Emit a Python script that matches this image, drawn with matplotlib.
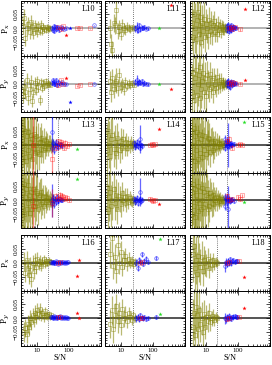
import matplotlib
matplotlib.use('Agg')
import matplotlib.pyplot as plt
from matplotlib.ticker import FixedLocator, LogLocator, NullFormatter

plt.rcParams['font.family'] = ['Liberation Serif', 'DejaVu Serif']
plt.rcParams['mathtext.fontset'] = 'dejavuserif'

# ---------------- data (S/N, Px, Py, error) ----------------
labels = ['L10', 'L11', 'L12', 'L13', 'L14', 'L15', 'L16', 'L17', 'L18']
snr_cut = [22, 24, 48, 48, 24, 45, 22, 24, 22]

# L10
l10_ol_sn = [3.6, 4.0, 4.4, 4.9, 5.4, 6.0, 6.6, 7.2, 7.9, 8.6, 9.4, 10.3, 11.2, 12.3, 13.4, 14.6, 16.0, 17.5, 19.0, 21.0, 23.0, 25.0, 27.0]
l10_ol_px = [0.008, 0.038, -0.036, 0.0, 0.015, -0.012, 0.022, 0.004, -0.018, 0.01, -0.002, -0.014, 0.008, -0.006, 0.012, -0.01, 0.004, -0.002, -0.006, 0.004, 0.0, -0.004, 0.002]
l10_ol_py = [-0.04, -0.012, -0.028, 0.012, -0.05, -0.02, 0.006, -0.062, -0.03, 0.002, -0.022, 0.01, -0.012, -0.058, 0.006, -0.016, 0.002, -0.008, 0.01, -0.004, 0.004, 0.0, -0.003]
l10_ol_err = [0.03, 0.03, 0.028, 0.027, 0.026, 0.025, 0.024, 0.023, 0.022, 0.021, 0.02, 0.019, 0.018, 0.017, 0.016, 0.015, 0.014, 0.013, 0.012, 0.011, 0.01, 0.009, 0.008]
l10_bl_sn = [30, 32, 34, 36, 38, 41, 44, 47, 51, 56, 62, 70, 85, 620]
l10_bl_px = [0.0, -0.006, 0.008, -0.01, 0.003, -0.004, 0.006, 0.0, -0.007, 0.004, 0.0, -0.003, 0.002, 0.01]
l10_bl_py = [0.004, 0.012, -0.002, 0.006, 0.0, 0.014, -0.004, 0.008, 0.002, 0.0, 0.005, -0.002, 0.0, 0.0]
l10_bl_err = [0.008, 0.008, 0.007, 0.007, 0.007, 0.006, 0.006, 0.006, 0.005, 0.005, 0.005, 0.004, 0.004, 0.002]
l10_rd_sn = [48, 58, 68, 190, 230, 480]
l10_rd_px = [0.004, -0.004, 0.008, 0.002, 0.0, 0.0]
l10_rd_py = [-0.006, 0.012, 0.0, -0.008, -0.004, 0.0]
l10_rd_err = [0.005, 0.005, 0.004, 0.003, 0.003, 0.002]
l10_rs_sn, l10_rs_px, l10_rs_py = [85], [-0.024], [0.019]
l10_bs_sn, l10_bs_px, l10_bs_py = [110], [0.0], [-0.065]

# L11
l11_ol_sn = [4.3, 4.8, 5.3, 5.8, 6.4, 7.0, 7.8, 8.6, 9.5, 10.5, 12, 13.5, 15, 17, 19, 22, 25]
l11_ol_px = [0.0, -0.055, -0.08, 0.02, 0.01, 0.064, -0.01, 0.004, -0.02, 0.01, 0.0, -0.008, 0.006, 0.0, -0.004, 0.003, 0.0]
l11_ol_py = [0.01, -0.03, 0.02, -0.02, 0.004, 0.01, -0.015, 0.03, -0.01, 0.0, -0.02, 0.006, -0.008, 0.004, -0.006, 0.002, -0.003]
l11_ol_err = [0.035, 0.035, 0.034, 0.032, 0.03, 0.045, 0.028, 0.026, 0.024, 0.022, 0.02, 0.018, 0.016, 0.014, 0.012, 0.01, 0.009]
l11_bl_sn = [28, 31, 34, 37, 40, 44, 48, 53, 60, 68]
l11_bl_px = [0.0, 0.004, -0.006, 0.01, -0.004, 0.002, 0.0, 0.005, -0.002, 0.0]
l11_bl_py = [0.006, 0.012, 0.002, 0.008, 0.004, 0.01, 0.0, 0.003, 0.0, -0.002]
l11_bl_err = [0.012, 0.02, 0.01, 0.01, 0.008, 0.008, 0.007, 0.007, 0.006, 0.006]
l11_rd_sn, l11_rd_px, l11_rd_py, l11_rd_err = [], [], [], []
l11_rs_sn, l11_rs_px, l11_rs_py = [370], [0.085], [-0.02]
l11_gs_sn, l11_gs_px, l11_gs_py = [150], [0.0], [0.0]

# L12
l12_ol_sn = [3.5, 3.8, 4.1, 4.4, 4.7, 5.0, 5.4, 5.8, 6.2, 6.6, 7.1, 7.6, 8.1, 8.7, 9.3, 10.0, 10.7, 11.5, 12.3, 13.2, 14.1, 15.1, 16.2, 17.4, 18.6, 20.0, 21.4, 23.0, 24.6, 26.4, 28.3, 30.3, 32.5, 34.8, 37.3, 40.0, 43.0, 46.0]
l12_ol_px = [0.02, -0.03, 0.05, 0.0, -0.04, 0.03, 0.06, -0.02, 0.01, 0.04, -0.05, 0.02, -0.01, 0.035, -0.03, 0.015, 0.0, -0.025, 0.03, -0.01, 0.02, -0.02, 0.01, 0.025, -0.015, 0.005, -0.02, 0.015, -0.005, 0.01, -0.012, 0.006, -0.004, 0.008, -0.006, 0.003, -0.002, 0.0]
l12_ol_py = [-0.03, 0.04, -0.06, 0.02, 0.05, -0.04, 0.0, 0.03, -0.05, 0.06, -0.02, 0.01, 0.04, -0.03, 0.02, -0.045, 0.03, 0.0, -0.02, 0.035, -0.01, 0.015, -0.03, 0.02, 0.0, -0.015, 0.025, -0.01, 0.012, -0.008, 0.015, -0.005, 0.006, 0.0, -0.004, 0.004, -0.002, 0.0]
l12_ol_err = [0.1, 0.1, 0.095, 0.09, 0.09, 0.085, 0.08, 0.08, 0.075, 0.07, 0.068, 0.065, 0.062, 0.06, 0.057, 0.055, 0.052, 0.05, 0.047, 0.045, 0.043, 0.04, 0.038, 0.036, 0.034, 0.032, 0.03, 0.028, 0.026, 0.025, 0.023, 0.022, 0.02, 0.019, 0.018, 0.017, 0.016, 0.015]
l12_bl_sn = [44, 46, 48, 50, 52, 54, 56, 58, 61, 64, 67, 70, 74, 80, 88]
l12_bl_px = [0.008, -0.006, 0.012, 0.0, -0.01, 0.004, -0.004, 0.01, -0.008, 0.002, 0.006, -0.002, 0.004, 0.0, 0.002]
l12_bl_py = [0.006, -0.004, 0.01, 0.0, -0.008, 0.004, -0.012, 0.008, 0.002, -0.004, 0.005, 0.0, -0.002, 0.002, 0.0]
l12_bl_err = [0.012, 0.012, 0.011, 0.011, 0.01, 0.01, 0.01, 0.009, 0.009, 0.009, 0.008, 0.008, 0.007, 0.007, 0.006]
l12_rd_sn = [52, 58, 66, 78, 118]
l12_rd_px = [0.0, 0.004, -0.003, 0.006, -0.004]
l12_rd_py = [0.004, -0.002, 0.006, 0.003, 0.0]
l12_rd_err = [0.008, 0.008, 0.007, 0.007, 0.005]
l12_rs_sn, l12_rs_px, l12_rs_py = [170], [0.07], [0.012]

# L13
l13_ol_sn = [3.1, 3.3, 3.5, 3.7, 3.9, 4.1, 4.3, 4.6, 4.9, 5.2, 5.5, 5.8, 6.1, 6.5, 6.9, 7.3, 7.7, 8.2, 8.7, 9.2, 9.8, 10.4, 11.0, 11.7, 12.4, 13.2, 14.0, 14.9, 15.8, 16.8, 17.8, 19.0, 20.2, 21.5, 23.0, 24.5, 26.0, 28.0, 30.0, 32.0]
l13_ol_px = [0.04, -0.05, 0.02, 0.06, -0.03, 0.0, 0.05, -0.06, 0.03, -0.02, 0.045, -0.04, 0.01, 0.035, -0.05, 0.02, -0.01, 0.04, -0.03, 0.0, 0.03, -0.025, 0.02, -0.035, 0.01, 0.025, -0.015, 0.005, -0.02, 0.018, -0.01, 0.012, -0.006, 0.008, -0.01, 0.004, 0.006, -0.004, 0.002, 0.0]
l13_ol_py = [-0.04, 0.05, -0.02, 0.03, 0.06, -0.05, 0.01, 0.04, -0.03, 0.055, -0.01, 0.02, -0.045, 0.03, 0.0, -0.03, 0.04, 0.015, -0.02, 0.035, -0.01, 0.025, -0.03, 0.01, 0.02, -0.015, 0.03, -0.005, 0.01, -0.02, 0.015, -0.008, 0.012, 0.0, 0.008, -0.006, 0.004, 0.0, -0.003, 0.002]
l13_ol_err = [0.15, 0.15, 0.14, 0.14, 0.13, 0.13, 0.12, 0.12, 0.11, 0.11, 0.1, 0.1, 0.095, 0.09, 0.085, 0.08, 0.078, 0.075, 0.07, 0.068, 0.065, 0.062, 0.06, 0.057, 0.055, 0.052, 0.05, 0.048, 0.045, 0.043, 0.04, 0.038, 0.036, 0.034, 0.032, 0.03, 0.028, 0.026, 0.024, 0.022]
l13_bl_sn = [30, 31, 33, 35, 37, 39, 42, 45, 48, 52, 56, 60]
l13_bl_px = [0.045, -0.01, 0.005, -0.02, 0.0, 0.01, -0.005, 0.004, -0.008, 0.002, 0.0, -0.003]
l13_bl_py = [0.0, -0.01, 0.008, -0.015, 0.004, -0.005, 0.01, 0.0, -0.004, 0.006, 0.002, 0.0]
l13_bl_err = [0.06, 0.015, 0.014, 0.013, 0.012, 0.012, 0.011, 0.01, 0.01, 0.009, 0.009, 0.008]
l13_rd_sn = [7.6, 30, 40, 46, 52, 58, 64, 70, 78, 88, 100]
l13_rd_px = [0.0, -0.05, -0.01, 0.012, -0.004, 0.01, 0.004, -0.012, 0.008, -0.006, 0.002]
l13_rd_py = [-0.02, -0.01, 0.015, 0.006, 0.02, 0.01, 0.016, 0.004, 0.012, 0.008, 0.0]
l13_rd_err = [0.15, 0.05, 0.01, 0.01, 0.01, 0.009, 0.009, 0.008, 0.008, 0.007, 0.006]
l13_gs_sn, l13_gs_px, l13_gs_py = [190], [-0.017], [0.078]

# L14
l14_ol_sn = [3.2, 3.5, 3.8, 4.1, 4.5, 4.9, 5.3, 5.8, 6.3, 6.9, 7.5, 8.2, 9.0, 9.8, 10.7, 11.7, 12.8, 14.0, 15.3, 16.7, 18.3, 20.0, 22.0, 24.0, 26.5]
l14_ol_px = [0.03, -0.02, 0.05, 0.0, -0.04, 0.02, 0.035, -0.015, 0.01, -0.03, 0.025, 0.0, -0.02, 0.015, -0.01, 0.02, -0.005, 0.01, -0.012, 0.006, -0.004, 0.008, -0.002, 0.004, 0.0]
l14_ol_py = [0.02, 0.045, -0.03, 0.01, 0.03, -0.02, 0.0, 0.04, -0.01, 0.02, -0.03, 0.015, 0.005, -0.015, 0.025, 0.0, 0.01, -0.01, 0.015, -0.005, 0.008, 0.0, -0.004, 0.002, 0.0]
l14_ol_err = [0.1, 0.095, 0.09, 0.085, 0.08, 0.075, 0.07, 0.066, 0.062, 0.058, 0.054, 0.05, 0.047, 0.044, 0.041, 0.038, 0.035, 0.032, 0.03, 0.027, 0.025, 0.022, 0.02, 0.018, 0.016]
l14_bl_sn = [26, 28, 30, 32, 34, 36, 38, 40, 43, 46]
l14_bl_px = [0.005, -0.008, 0.0, 0.01, -0.004, 0.006, -0.01, 0.02, 0.0, -0.003]
l14_bl_py = [0.004, -0.006, 0.002, 0.008, -0.01, 0.0, 0.006, 0.03, -0.004, 0.002]
l14_bl_err = [0.012, 0.011, 0.011, 0.01, 0.01, 0.009, 0.009, 0.05, 0.008, 0.008]
l14_rd_sn = [80, 92, 100, 112]
l14_rd_px = [0.0, 0.004, -0.002, 0.002]
l14_rd_py = [0.004, 0.0, -0.004, 0.002]
l14_rd_err = [0.006, 0.006, 0.005, 0.005]
l14_rs_sn, l14_rs_px, l14_rs_py = [148], [0.058], [-0.012]

# L15
l15_ol_sn = [3.5, 3.7, 3.9, 4.1, 4.3, 4.5, 4.8, 5.1, 5.4, 5.7, 6.0, 6.4, 6.8, 7.2, 7.6, 8.1, 8.6, 9.1, 9.7, 10.3, 11.0, 11.7, 12.4, 13.2, 14.0, 14.9, 15.8, 16.8, 17.8, 19.0, 20.2, 21.5, 23.0, 24.5, 26.0, 27.5, 29.0, 31.0, 33.0, 35.0]
l15_ol_px = [0.05, -0.04, 0.0, 0.06, -0.06, 0.03, -0.02, 0.045, -0.05, 0.01, 0.04, -0.03, 0.02, -0.045, 0.035, 0.0, -0.02, 0.03, -0.035, 0.015, 0.025, -0.01, 0.02, -0.025, 0.01, 0.015, -0.02, 0.005, -0.01, 0.012, -0.008, 0.01, -0.006, 0.004, 0.008, -0.004, 0.002, 0.006, -0.002, 0.0]
l15_ol_py = [-0.05, 0.03, 0.06, -0.02, 0.04, -0.06, 0.02, 0.0, 0.05, -0.04, -0.01, 0.035, -0.03, 0.045, 0.0, -0.025, 0.03, -0.015, 0.02, 0.04, -0.03, 0.01, -0.02, 0.025, 0.015, -0.01, 0.02, -0.015, 0.008, 0.0, 0.012, -0.006, 0.008, -0.004, 0.0, 0.004, -0.002, 0.003, 0.0, -0.002]
l15_ol_err = [0.16, 0.16, 0.15, 0.15, 0.14, 0.14, 0.13, 0.13, 0.12, 0.12, 0.11, 0.11, 0.1, 0.1, 0.095, 0.09, 0.085, 0.08, 0.075, 0.07, 0.066, 0.062, 0.058, 0.055, 0.052, 0.049, 0.046, 0.043, 0.04, 0.037, 0.034, 0.032, 0.03, 0.028, 0.026, 0.024, 0.022, 0.02, 0.018, 0.016]
l15_bl_sn = [38, 40, 42, 44, 45, 47, 49, 52, 55, 58, 62, 66, 72]
l15_bl_px = [0.02, -0.01, 0.005, 0.012, -0.004, 0.0, 0.008, -0.006, 0.004, -0.002, 0.006, 0.0, 0.002]
l15_bl_py = [0.01, -0.02, 0.004, -0.008, 0.012, -0.03, 0.0, 0.006, -0.004, 0.002, 0.0, 0.004, -0.002]
l15_bl_err = [0.015, 0.014, 0.013, 0.012, 0.012, 0.08, 0.011, 0.011, 0.01, 0.01, 0.009, 0.009, 0.008]
l15_rd_sn = [45, 50, 65, 100, 115, 130]
l15_rd_px = [0.012, 0.02, -0.01, 0.0, 0.002, 0.0]
l15_rd_py = [0.015, 0.0, 0.005, 0.012, 0.004, 0.018]
l15_rd_err = [0.01, 0.01, 0.008, 0.006, 0.006, 0.005]
l15_gs_sn, l15_gs_px, l15_gs_py = [151], [0.082], [-0.007]

# L16
l16_ol_sn = [4.0, 4.4, 4.8, 5.2, 5.7, 6.2, 6.8, 7.4, 8.1, 8.8, 9.6, 10.5, 11.5, 12.5, 13.7, 15.0, 16.4, 18.0, 19.7, 21.5, 23.5, 25.5, 28.0]
l16_ol_px = [0.004, -0.036, 0.01, -0.02, -0.045, -0.01, -0.06, 0.0, -0.03, 0.01, -0.015, 0.015, -0.005, 0.008, -0.01, 0.004, 0.012, -0.004, 0.006, 0.0, 0.008, 0.002, 0.004]
l16_ol_py = [-0.05, -0.035, -0.055, -0.02, -0.03, 0.0, -0.015, 0.01, -0.005, 0.02, 0.005, 0.03, 0.015, 0.035, 0.01, 0.02, 0.005, 0.025, 0.012, 0.008, 0.015, 0.005, 0.01]
l16_ol_err = [0.035, 0.034, 0.033, 0.032, 0.031, 0.03, 0.029, 0.028, 0.027, 0.026, 0.025, 0.024, 0.022, 0.021, 0.02, 0.018, 0.017, 0.016, 0.014, 0.013, 0.012, 0.011, 0.01]
l16_bl_sn = [28, 30, 32, 34, 36, 38, 40, 43, 46, 49, 52, 56, 60, 65, 70, 76, 82, 90, 98]
l16_bl_px = [0.002, 0.0, 0.004, -0.002, 0.003, 0.0, 0.005, 0.001, -0.003, 0.004, 0.002, 0.0, 0.003, 0.001, -0.002, 0.002, 0.0, 0.003, 0.001]
l16_bl_py = [0.003, 0.006, 0.0, 0.004, 0.008, 0.002, 0.005, 0.0, 0.006, 0.003, 0.007, 0.002, 0.004, 0.001, 0.005, 0.002, 0.003, 0.0, 0.002]
l16_bl_err = [0.006, 0.006, 0.006, 0.005, 0.005, 0.005, 0.005, 0.005, 0.004, 0.004, 0.004, 0.004, 0.004, 0.003, 0.003, 0.003, 0.003, 0.003, 0.003]
l16_rd_sn = [45, 52]
l16_rd_px = [0.0, 0.002]
l16_rd_py = [0.006, 0.004]
l16_rd_err = [0.005, 0.005]
l16_rs_sn, l16_rs_px, l16_rs_py = [190, 215], [-0.049, 0.011], [0.02, 0.0]

# L17
l17_ol_sn = [4.5, 5.0, 5.6, 6.2, 6.9, 7.7, 8.6, 9.6, 10.7, 12.0, 13.4, 15.0, 17.0, 19.0, 21.5, 24.0, 27.0]
l17_ol_px = [0.03, 0.09, -0.01, 0.02, -0.03, 0.065, 0.0, 0.04, -0.015, 0.01, 0.025, -0.005, 0.015, 0.0, 0.008, -0.004, 0.004]
l17_ol_py = [-0.02, 0.03, -0.04, 0.01, 0.045, -0.01, 0.02, -0.025, 0.035, 0.0, 0.015, -0.01, 0.02, 0.005, -0.005, 0.01, 0.0]
l17_ol_err = [0.05, 0.05, 0.048, 0.046, 0.044, 0.042, 0.04, 0.037, 0.034, 0.031, 0.028, 0.025, 0.022, 0.02, 0.018, 0.016, 0.014]
l17_bl_sn = [30, 33, 36, 40, 44, 48, 53, 60, 70, 120]
l17_bl_px = [0.0, -0.018, 0.01, 0.004, 0.03, -0.004, 0.006, 0.015, 0.002, 0.017]
l17_bl_py = [0.0, 0.006, -0.004, 0.01, 0.002, 0.0, 0.004, -0.002, 0.0, 0.004]
l17_bl_err = [0.012, 0.011, 0.01, 0.01, 0.009, 0.009, 0.008, 0.008, 0.007, 0.006]
l17_rd_sn = [40, 45]
l17_rd_px = [0.0, 0.004]
l17_rd_py = [0.0, 0.002]
l17_rd_err = [0.006, 0.006]
l17_gs_sn, l17_gs_px, l17_gs_py = [162], [0.086], [0.015]

# L18
l18_ol_sn = [3.8, 4.1, 4.4, 4.8, 5.2, 5.6, 6.1, 6.6, 7.2, 7.8, 8.5, 9.3, 10.2, 11.2, 12.3, 13.5, 14.8, 16.3, 18.0, 20.0, 22.0]
l18_ol_px = [0.03, 0.06, -0.02, 0.01, -0.04, 0.025, 0.0, -0.015, 0.02, -0.03, 0.01, 0.0, -0.01, 0.015, -0.02, 0.005, -0.008, 0.01, -0.004, 0.002, 0.0]
l18_ol_py = [-0.03, 0.02, -0.06, 0.04, 0.01, -0.04, 0.03, -0.02, 0.0, -0.05, 0.015, -0.03, 0.005, -0.01, 0.02, -0.015, 0.0, 0.008, -0.006, 0.004, 0.0]
l18_ol_err = [0.1, 0.1, 0.09, 0.085, 0.08, 0.075, 0.07, 0.065, 0.06, 0.055, 0.05, 0.046, 0.042, 0.038, 0.034, 0.03, 0.027, 0.024, 0.021, 0.018, 0.016]
l18_bl_sn = [38, 41, 44, 47, 50, 54, 58, 63, 70, 78, 86, 95]
l18_bl_px = [-0.012, 0.004, -0.004, 0.008, 0.0, 0.012, -0.002, 0.006, 0.01, 0.004, 0.008, 0.006]
l18_bl_py = [0.0, -0.004, 0.006, 0.0, 0.008, 0.002, -0.002, 0.004, 0.006, 0.008, 0.003, 0.004]
l18_bl_err = [0.02, 0.012, 0.011, 0.01, 0.01, 0.009, 0.009, 0.008, 0.008, 0.007, 0.007, 0.006]
l18_rd_sn = [45, 50, 110]
l18_rd_px = [0.0, 0.004, 0.008]
l18_rd_py = [-0.004, 0.002, 0.006]
l18_rd_err = [0.006, 0.006, 0.005]
l18_rs_sn, l18_rs_px, l18_rs_py = [148], [-0.052], [0.038]

panels = {
    'L10': dict(ol=(l10_ol_sn, l10_ol_px, l10_ol_py, l10_ol_err), bl=(l10_bl_sn, l10_bl_px, l10_bl_py, l10_bl_err),
                rd=(l10_rd_sn, l10_rd_px, l10_rd_py, l10_rd_err), rs=(l10_rs_sn, l10_rs_px, l10_rs_py),
                bs=(l10_bs_sn, l10_bs_px, l10_bs_py)),
    'L11': dict(ol=(l11_ol_sn, l11_ol_px, l11_ol_py, l11_ol_err), bl=(l11_bl_sn, l11_bl_px, l11_bl_py, l11_bl_err),
                rd=(l11_rd_sn, l11_rd_px, l11_rd_py, l11_rd_err), rs=(l11_rs_sn, l11_rs_px, l11_rs_py),
                gs=(l11_gs_sn, l11_gs_px, l11_gs_py)),
    'L12': dict(ol=(l12_ol_sn, l12_ol_px, l12_ol_py, l12_ol_err), bl=(l12_bl_sn, l12_bl_px, l12_bl_py, l12_bl_err),
                rd=(l12_rd_sn, l12_rd_px, l12_rd_py, l12_rd_err), rs=(l12_rs_sn, l12_rs_px, l12_rs_py)),
    'L13': dict(ol=(l13_ol_sn, l13_ol_px, l13_ol_py, l13_ol_err), bl=(l13_bl_sn, l13_bl_px, l13_bl_py, l13_bl_err),
                rd=(l13_rd_sn, l13_rd_px, l13_rd_py, l13_rd_err), gs=(l13_gs_sn, l13_gs_px, l13_gs_py)),
    'L14': dict(ol=(l14_ol_sn, l14_ol_px, l14_ol_py, l14_ol_err), bl=(l14_bl_sn, l14_bl_px, l14_bl_py, l14_bl_err),
                rd=(l14_rd_sn, l14_rd_px, l14_rd_py, l14_rd_err), rs=(l14_rs_sn, l14_rs_px, l14_rs_py)),
    'L15': dict(ol=(l15_ol_sn, l15_ol_px, l15_ol_py, l15_ol_err), bl=(l15_bl_sn, l15_bl_px, l15_bl_py, l15_bl_err),
                rd=(l15_rd_sn, l15_rd_px, l15_rd_py, l15_rd_err), gs=(l15_gs_sn, l15_gs_px, l15_gs_py)),
    'L16': dict(ol=(l16_ol_sn, l16_ol_px, l16_ol_py, l16_ol_err), bl=(l16_bl_sn, l16_bl_px, l16_bl_py, l16_bl_err),
                rd=(l16_rd_sn, l16_rd_px, l16_rd_py, l16_rd_err), rs=(l16_rs_sn, l16_rs_px, l16_rs_py)),
    'L17': dict(ol=(l17_ol_sn, l17_ol_px, l17_ol_py, l17_ol_err), bl=(l17_bl_sn, l17_bl_px, l17_bl_py, l17_bl_err),
                rd=(l17_rd_sn, l17_rd_px, l17_rd_py, l17_rd_err), gs=(l17_gs_sn, l17_gs_px, l17_gs_py)),
    'L18': dict(ol=(l18_ol_sn, l18_ol_px, l18_ol_py, l18_ol_err), bl=(l18_bl_sn, l18_bl_px, l18_bl_py, l18_bl_err),
                rd=(l18_rd_sn, l18_rd_px, l18_rd_py, l18_rd_err), rs=(l18_rs_sn, l18_rs_px, l18_rs_py)),
}

# ---------------- layout (pixels) ----------------
W, H = 272, 365
col_left = [20.5, 105, 190]
col_w = 80
grp_top = [0.5, 117, 235]
pan_h = 55.5
zero_col = ['0.62', '0.15', '0.15']

OLIVE = '#808000'

fig = plt.figure(figsize=(W / 100, H / 100), dpi=100)


def series(ax, sn, val, err, color, marker, alpha, ms, z):
    if len(sn) == 0:
        return
    ax.errorbar(sn, val, yerr=err, fmt=marker, mfc='none', mec=color, ecolor=color,
                ms=ms, mew=0.5, elinewidth=0.9, capsize=0, alpha=alpha, zorder=z)


for i, lab in enumerate(labels):
    r, c = divmod(i, 3)
    p = panels[lab]
    for k, comp in enumerate(['px', 'py']):
        top = grp_top[r] + k * pan_h
        ax = fig.add_axes([col_left[c] / W, 1 - (top + pan_h) / H, col_w / W, pan_h / H])
        j = 1 + k
        ax.axhline(0, color=zero_col[r], lw=1.1, zorder=1)
        ax.axvline(snr_cut[i], color='0.3', ls=(0, (1, 1.5)), lw=0.6, zorder=1)
        ol = p['ol']
        series(ax, ol[0], ol[j], ol[3], OLIVE, 's', 0.55, 2.6, 2)
        bl = p['bl']
        series(ax, bl[0], bl[j], bl[3], 'blue', 'o', 0.6, 2.6, 3)
        rd = p['rd']
        series(ax, rd[0], rd[j], rd[3], 'red', 's', 0.45, 2.6, 4)
        if 'rs' in p:
            ax.plot(p['rs'][0], p['rs'][j], ls='none', marker='*', color='red', ms=3.2, mew=0, zorder=6)
        if 'bs' in p:
            ax.plot(p['bs'][0], p['bs'][j], ls='none', marker='*', color='blue', ms=3.2, mew=0, zorder=6)
        if 'gs' in p:
            ax.plot(p['gs'][0], p['gs'][j], ls='none', marker='*', color='#22dd22', ms=3.2, mew=0, zorder=6)

        ax.set_xscale('log')
        ax.set_xlim(3.1, 1000)
        ax.set_ylim(-0.1, 0.1)
        ax.xaxis.set_major_locator(FixedLocator([10, 100, 1000]))
        ax.xaxis.set_minor_locator(LogLocator(base=10, subs=range(2, 10)))
        ax.xaxis.set_minor_formatter(NullFormatter())
        ax.yaxis.set_major_locator(FixedLocator([-0.05, 0.0, 0.05]))
        ax.yaxis.set_minor_locator(FixedLocator([v / 100 for v in range(-10, 11)]))
        ax.tick_params(which='both', direction='in', top=True, right=True, width=0.5,
                       labelsize=5, pad=1.2)
        ax.tick_params(which='major', length=3)
        ax.tick_params(which='minor', length=1.5)
        for s in ax.spines.values():
            s.set_linewidth(0.7)

        if r == 2 and k == 1:
            ax.set_xticklabels(['10', '100', ''])
            ax.set_xlabel('S/N', fontsize=6, labelpad=1)
        else:
            ax.set_xticklabels([])
        if c == 0:
            ax.set_yticklabels(['\u22120.05', '0.0', '0.05'], rotation=90, va='center')
            ax.set_ylabel(r'P$_x$' if comp == 'px' else r'P$_y$', fontsize=6.5)
            ax.yaxis.set_label_coords(-0.105, 0.5)
        else:
            ax.set_yticklabels([])
        if k == 0:
            ax.text(0.94, 0.92, lab, transform=ax.transAxes, ha='right', va='top', fontsize=6)

fig.savefig('out.png', dpi=100)
